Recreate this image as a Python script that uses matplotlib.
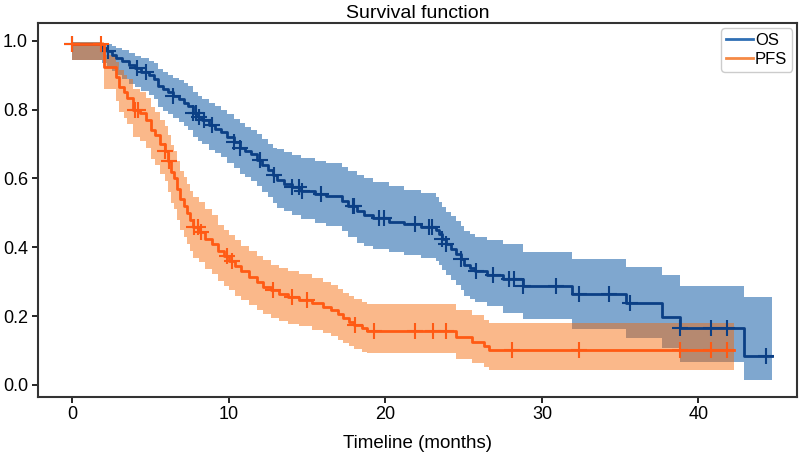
import numpy as np
import matplotlib
matplotlib.use("Agg")
import matplotlib.pyplot as plt
from matplotlib.lines import Line2D

plt.rcParams['font.family'] = ['Liberation Sans', 'DejaVu Sans']

# ---------------- data ----------------
os_t = [0.0, 1.9, 2.2, 2.5, 2.8, 3.2, 3.6, 4.0, 4.4, 4.9, 5.2, 5.5, 5.8, 6.1, 6.4, 6.8, 7.1, 7.4,
        7.7, 8.0, 8.3, 8.7, 9.1, 9.5, 9.9, 10.3, 10.7, 11.0, 11.4, 11.8, 12.1, 12.5, 12.8, 13.1,
        13.5, 14.0, 14.6, 15.5, 16.2, 17.2, 17.6, 18.2, 18.6, 19.2, 20.2, 21.2, 22.3, 23.2, 23.4,
        23.6, 23.9, 24.2, 24.5, 24.8, 25.0, 25.4, 25.7, 26.5, 27.5, 28.8, 31.9, 35.4, 37.7, 38.8,
        42.9]
os_s = [0.99, 0.98, 0.97, 0.96, 0.95, 0.94, 0.93, 0.92, 0.91, 0.90, 0.89, 0.87, 0.86, 0.85, 0.84,
        0.83, 0.82, 0.81, 0.79, 0.78, 0.77, 0.755, 0.745, 0.735, 0.72, 0.705, 0.69, 0.68, 0.67,
        0.655, 0.64, 0.625, 0.61, 0.595, 0.585, 0.575, 0.565, 0.555, 0.548, 0.535, 0.52, 0.505,
        0.495, 0.485, 0.475, 0.468, 0.46, 0.45, 0.44, 0.425, 0.41, 0.395, 0.38, 0.365, 0.35, 0.34,
        0.33, 0.32, 0.308, 0.288, 0.263, 0.237, 0.198, 0.165, 0.085]
os_lo = [0.945, 0.935, 0.925, 0.912, 0.90, 0.888, 0.876, 0.865, 0.853, 0.842, 0.83, 0.808, 0.797,
         0.786, 0.775, 0.764, 0.753, 0.742, 0.72, 0.71, 0.70, 0.684, 0.673, 0.662, 0.646, 0.63,
         0.614, 0.604, 0.593, 0.577, 0.561, 0.545, 0.53, 0.515, 0.505, 0.494, 0.483, 0.47, 0.462,
         0.447, 0.43, 0.414, 0.404, 0.394, 0.385, 0.377, 0.369, 0.36, 0.35, 0.335, 0.32, 0.305,
         0.29, 0.275, 0.26, 0.25, 0.24, 0.23, 0.208, 0.191, 0.163, 0.136, 0.107, 0.068, 0.0145]
os_hi = [0.998, 0.995, 0.99, 0.985, 0.978, 0.972, 0.965, 0.957, 0.95, 0.942, 0.935, 0.918, 0.91,
         0.90, 0.893, 0.885, 0.877, 0.868, 0.85, 0.84, 0.832, 0.818, 0.81, 0.80, 0.787, 0.773,
         0.76, 0.75, 0.742, 0.728, 0.714, 0.70, 0.69, 0.685, 0.677, 0.668, 0.66, 0.652, 0.645,
         0.634, 0.622, 0.61, 0.60, 0.59, 0.578, 0.568, 0.558, 0.545, 0.532, 0.518, 0.504, 0.49,
         0.476, 0.462, 0.448, 0.439, 0.43, 0.42, 0.409, 0.387, 0.366, 0.344, 0.319, 0.288, 0.255]
os_end = 44.7
os_cens = [0.0, 2.3, 4.1, 4.7, 6.4, 7.7, 7.9, 8.1, 8.4, 8.9, 10.3, 10.7, 12.0, 12.9, 14.0, 14.5,
           14.7, 15.9, 17.9, 18.0, 19.6, 19.9, 21.9, 22.8, 23.0, 23.6, 23.9, 24.8, 25.8, 26.9,
           27.9, 28.2, 28.8, 30.9, 32.4, 34.3, 35.6, 38.8, 40.8, 41.8, 44.3]

pfs_t = [0.0, 2.0, 2.8, 3.0, 3.3, 3.5, 3.9, 4.3, 4.7, 5.0, 5.3, 5.6, 5.9, 6.1, 6.3, 6.5, 6.7, 6.9,
         7.1, 7.3, 7.5, 7.7, 8.1, 8.5, 8.9, 9.3, 9.7, 10.0, 10.4, 10.8, 11.3, 11.8, 12.2, 12.7,
         13.2, 13.8, 14.5, 15.3, 16.0, 16.5, 17.0, 17.3, 17.7, 18.0, 18.5, 18.8, 24.5, 25.5, 26.3,
         26.6]
pfs_s = [0.99, 0.925, 0.895, 0.866, 0.85, 0.835, 0.80, 0.79, 0.77, 0.74, 0.725, 0.70, 0.68, 0.65,
         0.62, 0.60, 0.57, 0.54, 0.52, 0.50, 0.48, 0.46, 0.445, 0.425, 0.41, 0.39, 0.375, 0.36,
         0.345, 0.33, 0.315, 0.30, 0.286, 0.275, 0.265, 0.256, 0.247, 0.237, 0.227, 0.218, 0.205,
         0.194, 0.184, 0.174, 0.165, 0.158, 0.14, 0.125, 0.112, 0.102]
pfs_lo = [0.945, 0.86, 0.825, 0.792, 0.775, 0.758, 0.72, 0.71, 0.688, 0.656, 0.64, 0.613, 0.592,
          0.56, 0.53, 0.51, 0.48, 0.45, 0.43, 0.41, 0.39, 0.37, 0.356, 0.337, 0.322, 0.303, 0.289,
          0.275, 0.26, 0.246, 0.232, 0.218, 0.205, 0.195, 0.186, 0.178, 0.17, 0.16, 0.151, 0.143,
          0.131, 0.121, 0.112, 0.104, 0.096, 0.092, 0.076, 0.063, 0.052, 0.044]
pfs_hi = [0.998, 0.96, 0.938, 0.915, 0.902, 0.89, 0.86, 0.852, 0.834, 0.807, 0.794, 0.771, 0.753,
          0.725, 0.697, 0.679, 0.65, 0.622, 0.603, 0.584, 0.565, 0.546, 0.532, 0.512, 0.495, 0.465,
          0.45, 0.435, 0.42, 0.405, 0.39, 0.376, 0.362, 0.35, 0.34, 0.332, 0.322, 0.31, 0.298,
          0.29, 0.278, 0.268, 0.258, 0.25, 0.242, 0.234, 0.218, 0.202, 0.188, 0.179]
pfs_end = 42.3
pfs_cens = [0.0, 1.8, 4.0, 4.2, 5.9, 6.2, 7.8, 8.0, 8.2, 9.9, 10.2, 12.8, 14.0, 15.0, 18.05, 19.3,
            21.9, 23.05, 23.9, 28.1, 32.4, 38.8, 40.8, 41.8]

labels = ["OS", "PFS"]
x_ticks = [0, 10, 20, 30, 40]
y_ticks = [0.0, 0.2, 0.4, 0.6, 0.8, 1.0]

# ---------------- styling ----------------
line_cols = ["#0b3f85", "#ff5a14"]
fill_cols = ["#2a6cb0", "#f56806"]
fill_alphas = [0.6, 0.47]
leg_cols = ["#2f6fb4", "#f58a45"]

fig = plt.figure(figsize=(8.10, 4.61), dpi=100)
ax = fig.add_axes([0.0465, 0.1395, 0.9375, 0.81])

def draw(t, s, lo, hi, end, cens, lc, fc, fa):
    tt = np.array(list(t) + [end])
    ss = np.array(list(s) + [s[-1]])
    ll = np.array(list(lo) + [lo[-1]])
    hh = np.array(list(hi) + [hi[-1]])
    ax.fill_between(tt, ll, hh, step='post', color=fc, alpha=fa, lw=0)
    ax.step(tt, ss, where='post', color=lc, lw=2.0)
    idx = np.searchsorted(tt, np.array(cens), side='right') - 1
    ax.plot(cens, ss[idx], ls='none', marker='+', ms=12, mew=1.5, color=lc)

draw(os_t, os_s, os_lo, os_hi, os_end, os_cens, line_cols[0], fill_cols[0], fill_alphas[0])
draw(pfs_t, pfs_s, pfs_lo, pfs_hi, pfs_end, pfs_cens, line_cols[1], fill_cols[1], fill_alphas[1])

ax.set_xlim(-2.22, 46.3)
ax.set_ylim(-0.034, 1.051)
ax.set_xticks(x_ticks)
ax.set_yticks(y_ticks)
ax.set_yticklabels([f"{v:.1f}" for v in y_ticks])
ax.tick_params(labelsize=13, length=4, width=1.2, pad=3)
for sp in ax.spines.values():
    sp.set_linewidth(1.5)
    sp.set_color("#333333")
ax.set_title("Survival function", fontsize=14, pad=4)
ax.set_xlabel("Timeline (months)", fontsize=13.5, labelpad=8)

handles = [Line2D([], [], color=c, lw=2) for c in leg_cols]
ax.legend(handles, labels, loc='upper right', fontsize=12, handlelength=1.6,
          handletextpad=0.1, borderpad=0.3, labelspacing=0.2, borderaxespad=0.3,
          framealpha=1)

fig.savefig("out.png", dpi=100)
